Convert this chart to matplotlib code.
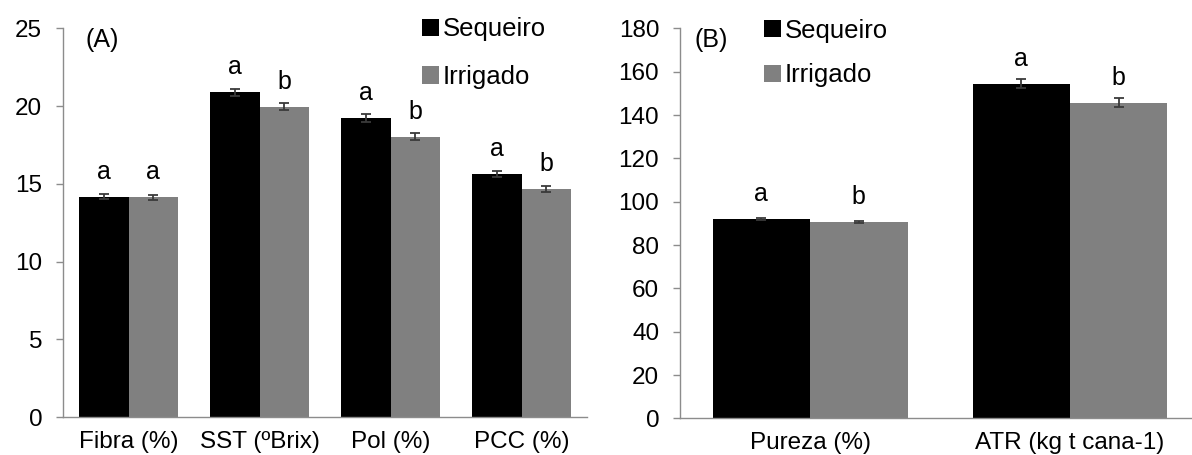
import matplotlib.pyplot as plt
from matplotlib.patches import Patch
import numpy as np

plt.rcParams['font.family'] = ['Liberation Sans', 'DejaVu Sans']

# painel A
cat_a = ['Fibra (%)', 'SST (ºBrix)', 'Pol (%)', 'PCC (%)']
seq_a = [14.17, 20.88, 19.21, 15.65]
irr_a = [14.13, 19.96, 18.03, 14.68]
seq_a_err = [0.15, 0.24, 0.25, 0.2]
irr_a_err = [0.15, 0.22, 0.24, 0.2]
let_seq_a = ['a', 'a', 'a', 'a']
let_irr_a = ['a', 'b', 'b', 'b']

# painel B
cat_b = ['Pureza (%)', 'ATR (kg t cana-1)']
seq_b = [92.2, 154.5]
irr_b = [90.6, 145.8]
seq_b_err = [0.5, 2.0]
irr_b_err = [0.5, 2.0]
let_seq_b = ['a', 'a']
let_irr_b = ['b', 'b']

preto = '#000000'
cinza = '#808080'
eixo = '#8c8c8c'
w = 0.375


def painel(ax, cats, s, i, se, ie, ls, li, ymax, step, tag, tagpos, legpos, legsp):
    x = np.arange(len(cats))
    ax.bar(x - w/2, s, w, color=preto, yerr=se, capsize=3.5,
           error_kw=dict(ecolor='#3a3a3a', elinewidth=1.3, capthick=1.3))
    ax.bar(x + w/2, i, w, color=cinza, yerr=ie, capsize=3.5,
           error_kw=dict(ecolor='#3a3a3a', elinewidth=1.3, capthick=1.3))
    for k in range(len(cats)):
        ax.annotate(ls[k], (x[k] - w/2, s[k]), xytext=(0, 13), textcoords='offset points',
                    ha='center', va='baseline', fontsize=18)
        ax.annotate(li[k], (x[k] + w/2, i[k]), xytext=(0, 13), textcoords='offset points',
                    ha='center', va='baseline', fontsize=18)
    ax.set_xlim(-0.5, len(cats) - 0.5)
    ax.set_ylim(0, ymax)
    ax.set_yticks(np.arange(0, ymax + 1, step))
    ax.set_xticks(x)
    ax.set_xticklabels(cats, fontsize=17.5)
    ax.tick_params(axis='y', labelsize=17.5, length=5, width=1, color=eixo, pad=10)
    ax.tick_params(axis='x', length=0, pad=10)
    for sp in ['top', 'right']:
        ax.spines[sp].set_visible(False)
    for sp in ['left', 'bottom']:
        ax.spines[sp].set_color(eixo)
        ax.spines[sp].set_linewidth(1)
    ax.text(tagpos[0], tagpos[1], tag, transform=ax.transAxes, fontsize=18,
            ha='center', va='center')
    hs = [Patch(facecolor=preto), Patch(facecolor=cinza)]
    ax.legend(hs, ['Sequeiro', 'Irrigado'], loc='upper left', bbox_to_anchor=legpos,
              frameon=False, fontsize=18.5, handlelength=0.65, handleheight=0.65,
              handletextpad=0.15, labelspacing=legsp, borderpad=0, borderaxespad=0)


fig = plt.figure(figsize=(11.92, 4.55), dpi=100)
ax1 = fig.add_axes([0.0529, 0.0835, 0.4396, 0.8543])
ax2 = fig.add_axes([0.5705, 0.0804, 0.4362, 0.857])

painel(ax1, cat_a, seq_a, irr_a, seq_a_err, irr_a_err, let_seq_a, let_irr_a,
       25, 5, '(A)', (0.075, 0.97), (0.685, 1.028), 0.92)
painel(ax2, cat_b, seq_b, irr_b, seq_b_err, irr_b_err, let_seq_b, let_irr_b,
       180, 20, '(B)', (0.06, 0.97), (0.162, 1.025), 0.8)

fig.savefig('out.png', dpi=100)
